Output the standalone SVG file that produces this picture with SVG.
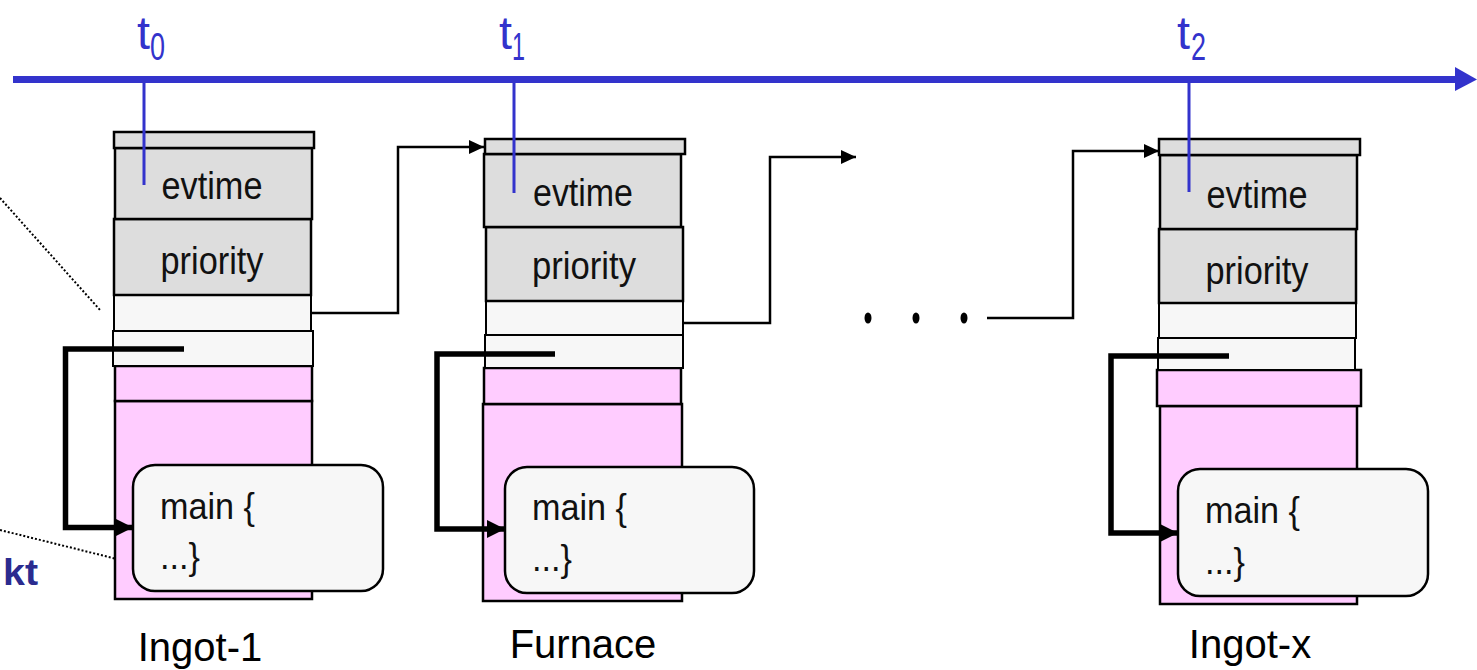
<svg xmlns="http://www.w3.org/2000/svg" width="1477" height="670" viewBox="0 0 1477 670">
<style>
.cap{fill:#DDDDDD;stroke:#000;stroke-width:2.5}
.gray{fill:#DDDDDD;stroke:#000;stroke-width:2.5}
.blank{fill:#F7F7F7;stroke:#000;stroke-width:2}
.pink{fill:#FFCCFF;stroke:#000;stroke-width:2.5}
.code{fill:#F7F7F7;stroke:#000;stroke-width:2.5}
.ft{font-family:"Liberation Sans",Arial,sans-serif;fill:#111}
.field{font-size:38px;text-anchor:middle}
.codet{font-size:37px}
.lbl{font-size:40px;text-anchor:middle;fill:#000}
.tl{font-family:"Liberation Sans",Arial,sans-serif;fill:#3333CC}
.tick{stroke:#3333CC;stroke-width:3}
.link{fill:none;stroke:#000;stroke-width:2.5}
.self{fill:none;stroke:#000;stroke-width:5.5}
.dot{fill:none;stroke:#000;stroke-width:2;stroke-dasharray:2 2}
</style>
<defs>
<marker id="ah" markerWidth="16" markerHeight="16" refX="15" refY="7" orient="auto" markerUnits="userSpaceOnUse">
<path d="M0,0 L15,7 L0,14 Z" fill="#000"/>
</marker>
<marker id="ahb" markerWidth="20" markerHeight="20" refX="18" refY="9" orient="auto" markerUnits="userSpaceOnUse">
<path d="M0,0 L18,9 L0,18 Z" fill="#000"/>
</marker>
</defs>

<!-- side annotations -->
<g id="annotations">
<line class="dot" x1="0" y1="198" x2="100" y2="310"/>
<line class="dot" x1="0" y1="530" x2="133" y2="563"/>
<text x="3" y="585" font-family="'Liberation Sans',Arial,sans-serif" font-size="37" font-weight="bold" fill="#2B2B8F" textLength="35" lengthAdjust="spacingAndGlyphs">kt</text>
</g>

<!-- node 1 -->
<g id="ingot-1">
<rect class="pink" x="115" y="401" width="197" height="198"/>
<rect class="pink" x="115" y="366" width="197" height="35"/>
<rect class="blank" x="113" y="331" width="200" height="35"/>
<rect class="blank" x="114" y="295" width="197" height="36"/>
<rect class="gray" x="114" y="219" width="197" height="76"/>
<rect class="gray" x="115" y="148" width="197" height="71"/>
<rect class="cap" x="114" y="132" width="200" height="16"/>
<text class="ft field" x="212" y="199" textLength="101" lengthAdjust="spacingAndGlyphs">evtime</text>
<text class="ft field" x="212" y="274" textLength="103" lengthAdjust="spacingAndGlyphs">priority</text>
<rect class="code" x="133" y="465" width="250" height="126" rx="22"/>
<text class="ft codet" x="160" y="519" textLength="95" lengthAdjust="spacingAndGlyphs">main {</text>
<text class="ft codet" x="160" y="569" textLength="40" lengthAdjust="spacingAndGlyphs">...}</text>
<text class="ft lbl" x="200" y="661">Ingot-1</text>
</g>

<!-- node 2 -->
<g id="furnace">
<rect class="pink" x="483" y="404" width="199" height="197"/>
<rect class="pink" x="484" y="368" width="197" height="36"/>
<rect class="blank" x="485" y="335" width="198" height="33"/>
<rect class="blank" x="486" y="301" width="197" height="34"/>
<rect class="gray" x="486" y="227" width="197" height="74"/>
<rect class="gray" x="484" y="154" width="197" height="73"/>
<rect class="cap" x="485" y="139" width="200" height="15"/>
<text class="ft field" x="583" y="206" textLength="100" lengthAdjust="spacingAndGlyphs">evtime</text>
<text class="ft field" x="584" y="279" textLength="104" lengthAdjust="spacingAndGlyphs">priority</text>
<rect class="code" x="505" y="467" width="249" height="126" rx="22"/>
<text class="ft codet" x="532" y="520" textLength="95" lengthAdjust="spacingAndGlyphs">main {</text>
<text class="ft codet" x="532" y="571" textLength="40" lengthAdjust="spacingAndGlyphs">...}</text>
<text class="ft lbl" x="583" y="658">Furnace</text>
</g>

<!-- node 3 -->
<g id="ingot-x">
<rect class="pink" x="1160" y="406" width="197" height="198"/>
<rect class="pink" x="1157" y="370" width="204" height="36"/>
<rect class="blank" x="1158" y="338" width="197" height="32"/>
<rect class="blank" x="1159" y="303" width="197" height="35"/>
<rect class="gray" x="1159" y="229" width="197" height="74"/>
<rect class="gray" x="1160" y="155" width="197" height="74"/>
<rect class="cap" x="1159" y="139" width="201" height="16"/>
<text class="ft field" x="1257" y="208" textLength="101" lengthAdjust="spacingAndGlyphs">evtime</text>
<text class="ft field" x="1257" y="284" textLength="103" lengthAdjust="spacingAndGlyphs">priority</text>
<rect class="code" x="1178" y="469" width="250" height="127" rx="22"/>
<text class="ft codet" x="1205" y="523" textLength="95" lengthAdjust="spacingAndGlyphs">main {</text>
<text class="ft codet" x="1205" y="574" textLength="40" lengthAdjust="spacingAndGlyphs">...}</text>
<text class="ft lbl" x="1250" y="658">Ingot-x</text>
</g>

<!-- ellipsis -->
<g id="ellipsis">
<ellipse cx="868" cy="318" rx="3.5" ry="5.5" fill="#000"/>
<ellipse cx="916" cy="318" rx="3.5" ry="5.5" fill="#000"/>
<ellipse cx="964" cy="318" rx="3.5" ry="5.5" fill="#000"/>
</g>

<!-- timeline -->
<g id="timeline">
<line x1="13" y1="79.5" x2="1457" y2="79.5" stroke="#3333CC" stroke-width="7"/>
<path d="M1455,67 L1477,79.5 L1455,91 Z" fill="#3333CC"/>
<line class="tick" x1="144" y1="83" x2="144" y2="185"/>
<line class="tick" x1="514" y1="83" x2="514" y2="193"/>
<line class="tick" x1="1189" y1="83" x2="1189" y2="192"/>
<text class="tl" x="137" y="49" font-size="46" textLength="13" lengthAdjust="spacingAndGlyphs">t</text>
<text class="tl" x="150" y="60" font-size="38" textLength="15" lengthAdjust="spacingAndGlyphs">0</text>
<text class="tl" x="499" y="49" font-size="46" textLength="13" lengthAdjust="spacingAndGlyphs">t</text>
<text class="tl" x="512" y="60" font-size="38" textLength="13" lengthAdjust="spacingAndGlyphs">1</text>
<text class="tl" x="1177" y="49" font-size="46" textLength="13" lengthAdjust="spacingAndGlyphs">t</text>
<text class="tl" x="1191" y="60" font-size="38" textLength="15" lengthAdjust="spacingAndGlyphs">2</text>
</g>

<!-- connectors -->
<g id="connectors">
<path class="link" d="M311,313 H398 V147 H484" marker-end="url(#ah)"/>
<path class="link" d="M683,323 H770 V157 H856" marker-end="url(#ah)"/>
<path class="link" d="M987,318 H1073 V151 H1159" marker-end="url(#ah)"/>
<path class="self" d="M184,349 H65.5 V527.5 H133" marker-end="url(#ahb)"/>
<path class="self" d="M555,354 H437 V529 H505" marker-end="url(#ahb)"/>
<path class="self" d="M1229,356 H1111 V533 H1178" marker-end="url(#ahb)"/>
</g>
</svg>
